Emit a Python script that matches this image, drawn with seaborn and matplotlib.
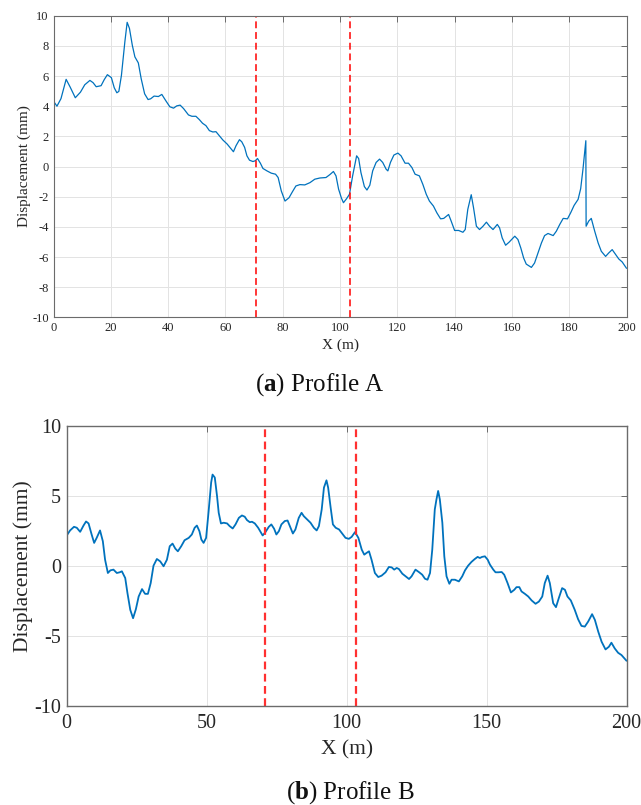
import numpy as np
import pandas as pd
import matplotlib
matplotlib.use("Agg")
import matplotlib.pyplot as plt
import seaborn as sns

# ---- Profile A: displacement along the section ----
xa = [0.0, 1.2, 2.6, 4.4, 5.8, 7.6, 9.4, 10.9, 12.7, 13.8, 14.9, 16.6, 17.7, 18.8,
      20.2, 21.2, 22.1, 22.8, 23.7, 24.9, 25.7, 26.5, 27.5, 28.4, 29.6, 30.6, 31.8,
      33.0, 33.9, 35.1, 36.6, 37.8, 39.2, 40.6, 41.9, 43.0, 44.2, 45.4, 47.1, 48.3,
      49.7, 50.9, 52.0, 53.2, 54.4, 55.6, 56.7, 57.9, 59.1, 60.6, 62.0, 62.8, 63.7,
      64.9, 65.7, 66.7, 67.5, 68.4, 69.6, 70.4, 71.2, 72.2, 73.1, 74.5, 76.0, 77.5,
      78.4, 79.5, 80.8, 82.2, 83.4, 84.6, 86.0, 87.7, 89.5, 91.2, 93.0, 95.1, 96.5,
      97.7, 98.6, 99.5, 100.5, 101.2, 102.3, 103.3, 104.4, 105.8, 106.5, 107.3,
      108.5, 109.4, 110.4, 111.4, 112.6, 113.8, 114.9, 116.1, 116.7, 117.6, 118.8,
      120.2, 121.3, 122.7, 123.9, 125.1, 126.2, 127.7, 128.9, 130.1, 131.2, 132.6,
      133.8, 135.1, 136.2, 137.9, 138.8, 140.0, 141.4, 142.9, 143.7, 144.6, 145.8,
      146.6, 147.6, 148.7, 149.9, 151.1, 152.2, 153.4, 154.9, 155.7, 156.6, 157.8,
      159.0, 161.0, 162.1, 163.1, 164.1, 165.0, 166.8, 167.9, 169.1, 170.3, 171.4,
      172.6, 174.4, 175.5, 176.7, 177.9, 179.4, 180.5, 181.7, 183.1, 184.0, 184.8,
      185.4, 185.8, 185.9, 186.8, 187.7, 188.9, 190.1, 191.2, 192.7, 193.8, 195.0,
      196.2, 197.3, 198.5, 200.0]
ya = [4.33, 4.00, 4.50, 5.78, 5.27, 4.56, 4.93, 5.42, 5.71, 5.56, 5.29, 5.36, 5.76, 6.09,
      5.89, 5.22, 4.89, 4.98, 6.04, 8.27, 9.56, 9.16, 8.04, 7.27, 6.87, 5.82, 4.82,
      4.44, 4.49, 4.67, 4.64, 4.78, 4.36, 3.96, 3.87, 4.02, 4.07, 3.84, 3.42, 3.33,
      3.33, 3.11, 2.87, 2.71, 2.38, 2.29, 2.31, 2.04, 1.76, 1.49, 1.16, 0.98, 1.38,
      1.78, 1.64, 1.27, 0.71, 0.42, 0.33, 0.38, 0.53, 0.22, -0.13, -0.29, -0.44, -0.51,
      -0.73, -1.62, -2.29, -2.07, -1.67, -1.29, -1.20, -1.22, -1.07, -0.84, -0.76, -0.73,
      -0.53, -0.33, -0.62, -1.50, -2.10, -2.40, -2.13, -1.84, -0.62, 0.71, 0.53, -0.40,
      -1.33, -1.56, -1.24, -0.29, 0.27, 0.49, 0.27, -0.18, -0.29, 0.27, 0.76,
      0.89, 0.71, 0.22, 0.22, -0.07, -0.51, -0.62, -1.18, -1.84, -2.29, -2.62,
      -3.07, -3.47, -3.44, -3.18, -3.62, -4.24, -4.24, -4.36, -4.18, -2.84, -1.87,
      -2.73, -3.96, -4.18, -3.96, -3.69, -3.96, -4.18, -3.84, -4.07, -4.73, -5.22,
      -5.02, -4.62, -4.84, -5.40, -6.07, -6.47, -6.69, -6.40, -5.73, -5.07, -4.58,
      -4.44, -4.58, -4.29, -3.84, -3.44, -3.47, -3.07, -2.58, -2.18, -1.47, -0.18,
      0.93, 1.71, -3.96, -3.62, -3.44, -4.29, -5.07, -5.62, -5.96, -5.73, -5.51,
      -5.84, -6.13, -6.33, -6.75]

# ---- Profile B: displacement along the section ----
xb = [0.0, 1.2, 2.6, 3.6, 4.8, 6.0, 6.9, 7.8, 8.9, 9.8, 10.7, 11.9, 12.9, 13.7, 14.7,
      15.6, 16.7, 17.9, 18.9, 19.7, 20.9, 21.7, 22.7, 23.7, 24.7, 25.7, 26.9, 28.0,
      29.0, 30.0, 31.0, 32.2, 33.4, 34.6, 35.8, 36.8, 37.8, 38.8, 39.7, 40.9, 42.1,
      43.6, 44.7, 45.7, 46.5, 47.4, 48.1, 48.9, 49.8, 50.7, 51.6, 52.1, 52.9, 53.7,
      54.3, 55.1, 56.1, 57.3, 58.2, 59.3, 60.3, 61.5, 62.6, 63.6, 64.4, 65.4, 66.2,
      67.2, 68.4, 69.3, 70.0, 71.0, 72.2, 73.1, 74.1, 74.9, 75.8, 76.7, 77.9, 78.9,
      79.8, 80.8, 81.7, 82.9, 83.9, 84.7, 85.9, 87.1, 88.3, 89.3, 90.1, 91.1, 91.9,
      92.8, 93.4, 94.3, 95.1, 96.1, 97.3, 98.4, 99.6, 100.8, 101.8, 103.0, 104.2,
      105.4, 106.3, 107.1, 108.0, 108.9, 110.1, 111.3, 112.5, 113.9, 115.1, 116.1,
      117.0, 117.9, 118.7, 119.9, 121.1, 122.3, 123.2, 124.6, 125.8, 127.0, 128.0,
      128.9, 129.8, 130.6, 131.5, 132.1, 132.7, 133.3, 134.2, 134.9, 135.7, 136.7,
      137.5, 138.7, 140.1, 141.3, 142.3, 143.4, 144.6, 145.8, 146.8, 147.6, 148.4,
      149.4, 150.4, 151.2, 152.4, 153.2, 154.2, 155.4, 156.3, 157.5, 158.7, 159.9,
      160.7, 161.7, 162.5, 163.7, 164.9, 166.1, 167.5, 168.7, 169.9, 170.8, 171.8,
      172.6, 173.8, 174.8, 175.8, 177.0, 178.0, 178.9, 180.1, 181.5, 182.7, 183.9,
      185.1, 186.3, 187.7, 188.7, 189.9, 191.1, 192.5, 193.7, 194.6, 195.8, 197.0,
      198.2, 200.0]
yb = [2.18, 2.54, 2.80, 2.73, 2.44, 2.89, 3.18, 3.04, 2.25, 1.65, 2.01, 2.54, 1.77, 0.45,
      -0.50, -0.31, -0.26, -0.50, -0.45, -0.38, -0.86, -1.94, -3.13, -3.73, -3.09,
      -2.18, -1.65, -1.99, -1.99, -1.22, 0.02, 0.50, 0.33, -0.02, 0.45, 1.41, 1.60,
      1.24, 1.05, 1.41, 1.84, 2.01, 2.25, 2.73, 2.89, 2.49, 1.89, 1.65, 2.01, 3.92,
      5.96, 6.53, 6.32, 5.00, 3.80, 3.04, 3.09, 3.04, 2.85, 2.68, 2.97, 3.44, 3.61,
      3.52, 3.28, 3.13, 3.16, 3.04, 2.73, 2.42, 2.18, 2.42, 2.80, 2.97, 2.66, 2.25,
      2.49, 2.97, 3.21, 3.25, 2.80, 2.32, 2.61, 3.44, 3.80, 3.56, 3.33, 3.09, 2.73,
      2.54, 2.85, 4.04, 5.60, 6.12, 5.60, 4.16, 2.97, 2.73, 2.61, 2.32, 2.01, 1.94,
      2.08, 2.42, 2.01, 1.17, 0.81, 0.93, 1.05, 0.45, -0.50, -0.79, -0.69, -0.45,
      -0.07, -0.10, -0.26, -0.14, -0.22, -0.55, -0.74, -0.93, -0.74, -0.26, -0.43,
      -0.62, -0.91, -0.98, -0.50, 1.17, 4.04, 4.76, 5.36, 4.76, 3.09, 0.69, -0.74,
      -1.27, -0.98, -0.98, -1.10, -0.74, -0.31, 0.02, 0.29, 0.50, 0.65, 0.57, 0.65,
      0.69, 0.45, 0.10, -0.26, -0.45, -0.45, -0.43, -0.62, -1.22, -1.89, -1.70,
      -1.51, -1.51, -1.82, -1.99, -2.18, -2.46, -2.70, -2.54, -2.18, -1.22, -0.69,
      -1.22, -2.66, -2.94, -2.30, -1.58, -1.70, -2.18, -2.46, -3.13, -3.80, -4.28,
      -4.33, -3.97, -3.44, -3.85, -4.69, -5.41, -5.96, -5.77, -5.48, -5.89, -6.20,
      -6.36, -6.77]

# Boundaries of the zone of interest
zone_bounds = [70.8, 103.4]

xticks_a = list(range(0, 201, 20))
yticks_a = list(range(-10, 11, 2))
xticks_b = list(range(0, 201, 50))
yticks_b = list(range(-10, 11, 5))

sns.set_theme(style="white")
plt.rcParams["font.family"] = ["Liberation Serif", "DejaVu Serif"]
plt.rcParams["axes.unicode_minus"] = False
plt.rcParams["mathtext.fontset"] = "custom"
plt.rcParams["mathtext.rm"] = "Liberation Serif"
plt.rcParams["mathtext.bf"] = "Liberation Serif:bold"

LINE_BLUE = "#0072BD"
SPINE = "#6b6b6b"
GRID = "#e3e3e3"

fig = plt.figure(figsize=(6.41, 8.05), dpi=100)
ax_a = fig.add_axes([0.0835, 0.6058, 0.8939, 0.3747])
ax_b = fig.add_axes([0.1041, 0.1230, 0.8733, 0.3478])

df_a = pd.DataFrame({"X (m)": xa, "Displacement (mm)": ya})
df_b = pd.DataFrame({"X (m)": xb, "Displacement (mm)": yb})


def style_axes(ax, xticks, yticks, tick_fs, label_fs, lw_spine, pad):
    ax.set_xlim(0, 200)
    ax.set_ylim(-10, 10)
    ax.set_xticks(xticks)
    ax.set_yticks(yticks)
    ax.grid(True, color=GRID, linewidth=0.7)
    ax.set_axisbelow(True)
    for s in ax.spines.values():
        s.set_visible(True)
        s.set_color(SPINE)
        s.set_linewidth(lw_spine)
    ax.tick_params(axis="both", which="both", direction="in", length=4.3,
                   width=0.7, color=SPINE, top=True, right=True,
                   labelsize=tick_fs, labelcolor="#262626", pad=pad)
    ax.set_xlabel("X (m)", fontsize=label_fs, color="#262626")
    ax.set_ylabel("Displacement (mm)", fontsize=label_fs, color="#262626")


sns.lineplot(data=df_a, x="X (m)", y="Displacement (mm)", ax=ax_a,
             color=LINE_BLUE, linewidth=0.9, estimator=None, sort=False)
for xv in zone_bounds:
    ax_a.axvline(xv, color="red", linestyle=(0, (4.5, 2.5)), linewidth=1.1)
style_axes(ax_a, xticks_a, yticks_a, 9, 11, 0.8, 3.5)
ax_a.xaxis.labelpad = 3
ax_a.yaxis.labelpad = 1

sns.lineplot(data=df_b, x="X (m)", y="Displacement (mm)", ax=ax_b,
             color=LINE_BLUE, linewidth=1.3, estimator=None, sort=False)
for xv in zone_bounds:
    ax_b.axvline(xv, color="#ff3030", linestyle=(0, (3.5, 2.0)), linewidth=1.6)
style_axes(ax_b, xticks_b, yticks_b, 14.5, 15.5, 1.0, 6)
ax_b.tick_params(axis="y", pad=4)
ax_b.xaxis.labelpad = 5
ax_b.yaxis.labelpad = 1

fig.text(0.499, 0.522, r"($\mathbf{a}$) Profile A", ha="center", va="center",
         fontsize=18, color="#111111")
fig.text(0.547, 0.016, r"($\mathbf{b}$) Profile B", ha="center", va="center",
         fontsize=18, color="#111111")

fig.savefig("out.png", dpi=100)
